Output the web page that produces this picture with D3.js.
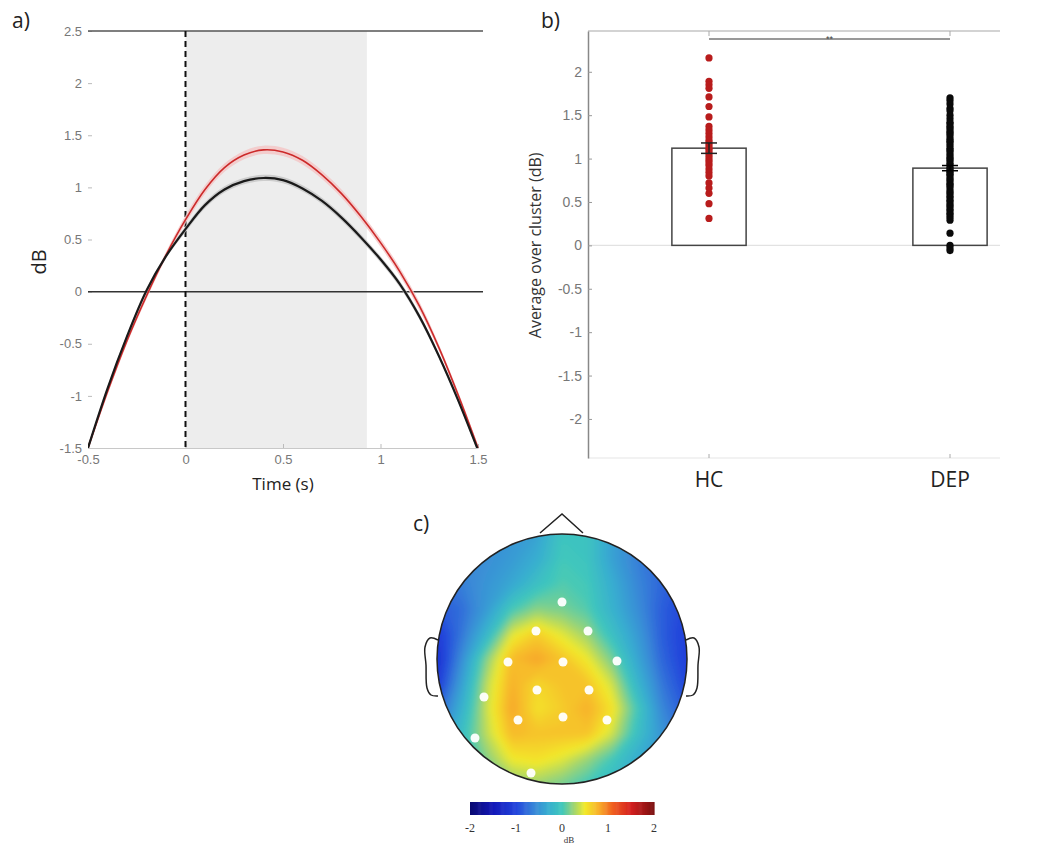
<!DOCTYPE html>
<html>
<head>
<meta charset="utf-8">
<script src="https://cdn.jsdelivr.net/npm/d3@7"></script>
<style>
  body { margin: 0; background: #fff; }
  svg { display: block; }
</style>
</head>
<body>
<div id="chart"></div>
<script>
// ---- panel a : time course (dB) ----
const timePts = [-0.5,-0.4,-0.3,-0.2,-0.1,0,0.1,0.2,0.3,0.4,0.5,0.6,0.7,0.8,0.9,1.0,1.1,1.2,1.3,1.4,1.5];
const hcCurve  = [-1.50,-0.96,-0.47,-0.04,0.35,0.69,0.98,1.19,1.31,1.36,1.34,1.26,1.12,0.94,0.72,0.47,0.19,-0.14,-0.54,-1.00,-1.50];
const depCurve = [-1.50,-0.93,-0.43,0.01,0.34,0.60,0.83,0.98,1.06,1.09,1.07,0.99,0.87,0.71,0.52,0.31,0.07,-0.24,-0.62,-1.05,-1.52];
const hcSem  = [0.03,0.03,0.03,0.03,0.03,0.04,0.04,0.04,0.04,0.04,0.04,0.04,0.04,0.04,0.04,0.04,0.04,0.04,0.03,0.03,0.03];
const depSem = [0.02,0.02,0.02,0.02,0.02,0.03,0.03,0.03,0.03,0.03,0.03,0.03,0.03,0.03,0.03,0.03,0.03,0.03,0.02,0.02,0.02];
const timeTicks = [-0.5, 0, 0.5, 1, 1.5];
const dbTicks = [-1.5, -1, -0.5, 0, 0.5, 1, 1.5, 2, 2.5];
const clusterWindow = [0, 0.93];

// ---- panel b : average over cluster ----
const groups = ["HC", "DEP"];
const groupMeans = [1.12, 0.89];
const groupSem = [0.06, 0.03];
const hcPoints = [2.16,1.89,1.85,1.81,1.71,1.60,1.48,1.37,1.33,1.29,1.25,1.21,1.18,1.15,1.12,1.10,1.07,1.04,1.01,0.98,0.95,0.92,0.88,0.84,0.80,0.72,0.66,0.60,0.48,0.31];
const depPoints = [1.70,1.67,1.63,1.58,1.55,1.50,1.46,1.42,1.40,1.37,1.35,1.32,1.30,1.28,1.25,1.22,1.20,1.18,1.15,1.12,1.10,1.08,1.05,1.02,1.00,0.98,0.95,0.93,0.90,0.88,0.86,0.84,0.82,0.80,0.77,0.75,0.72,0.70,0.68,0.65,0.62,0.60,0.57,0.55,0.52,0.50,0.47,0.45,0.42,0.40,0.37,0.35,0.32,0.29,0.14,0.0,-0.03,-0.06];
const clusterTicks = [-2, -1.5, -1, -0.5, 0, 0.5, 1, 1.5, 2];

// ---- panel c : topography (head coords -1..1, rows top to bottom) ----
const topoGrid = [
  [-0.6,-0.6,-0.55,-0.5,-0.4,-0.05,-0.05,-0.4,-0.65,-0.8,-0.85],
  [-0.65,-0.6,-0.55,-0.45,-0.3,0.0,-0.05,-0.4,-0.65,-0.8,-0.9],
  [-0.75,-0.65,-0.5,-0.35,-0.1,0.05,0.0,-0.3,-0.6,-0.8,-0.95],
  [-0.9,-0.75,-0.45,0.0,0.2,0.15,0.05,-0.25,-0.55,-0.85,-1.0],
  [-1.1,-0.7,-0.2,0.45,0.65,0.45,0.25,-0.1,-0.45,-0.85,-1.05],
  [-1.2,-0.55,0.2,0.75,0.85,0.7,0.5,0.15,-0.35,-0.8,-1.05],
  [-1.1,-0.4,0.35,0.8,0.6,0.7,0.7,0.4,-0.2,-0.7,-1.0],
  [-0.85,-0.25,0.4,0.85,0.55,0.65,0.8,0.55,0.0,-0.6,-0.9],
  [-0.6,-0.1,0.35,0.75,0.7,0.7,0.7,0.4,-0.1,-0.5,-0.8],
  [-0.5,-0.2,0.2,0.5,0.55,0.45,0.25,0.0,-0.3,-0.5,-0.7],
  [-0.5,-0.3,-0.05,0.2,0.25,0.15,0.0,-0.15,-0.35,-0.5,-0.65]
];
const electrodes = [
  [0,-0.456],[-0.208,-0.224],[0.208,-0.224],[-0.432,0.024],[0.008,0.024],[0.44,0.016],
  [-0.624,0.304],[-0.2,0.248],[0.216,0.248],[-0.352,0.488],[0.008,0.464],[0.36,0.488],
  [-0.696,0.632],[-0.248,0.912]
];
const noseShape = [[-0.176,-1.008],[0,-1.16],[0.168,-1.008]];
const earShape = [[-0.992,-0.152],[-1.056,-0.168],[-1.096,-0.096],[-1.088,0.048],[-1.08,0.232],[-1.048,0.288],[-0.992,0.296]];
const colorTicks = [-2, -1, 0, 1, 2];
const colorStops = [-2,-1.5,-1.0,-0.6,-0.3,0.0,0.25,0.5,0.8,1.1,1.5,2.0];
const colorVals = ["#0a0a70","#1418b8","#2244dc","#3a88d8","#38aed0","#40c8bc","#9cd474","#f2ea2a","#f8b02c","#f06020","#d42020","#7a1010"];

const svg = d3.select("#chart").append("svg")
    .attr("width", 1049)
    .attr("height", 848);

const labelFont = "'Open Sans', 'Noto Sans', sans-serif";
const tickFont = "'Liberation Sans', Arial, sans-serif";
const plain = d => String(d);

// =================== panel a ===================
const xA = d3.scaleLinear().domain([-0.5, 1.5]).range([88, 478]);
const yA = d3.scaleLinear().domain([-1.5, 2.5]).range([448, 31]);
const rightA = 483;

const gA = svg.append("g");
gA.append("defs").append("clipPath").attr("id", "clipA")
  .append("rect").attr("x", 88).attr("y", 31).attr("width", rightA - 88).attr("height", 448 - 31);

gA.append("rect")
    .attr("x", xA(clusterWindow[0]))
    .attr("y", yA(2.5))
    .attr("width", xA(clusterWindow[1]) - xA(clusterWindow[0]))
    .attr("height", yA(-1.5) - yA(2.5))
    .attr("fill", "#ededed");

const axA = gA.append("g").attr("transform", "translate(88,0)")
    .call(d3.axisLeft(yA).tickValues(dbTicks).tickSizeInner(-4).tickSizeOuter(0).tickPadding(6).tickFormat(plain));
axA.select(".domain").remove();
const axAb = gA.append("g").attr("transform", "translate(0,448)")
    .call(d3.axisBottom(xA).tickValues(timeTicks).tickSizeInner(-4).tickSizeOuter(0).tickPadding(7).tickFormat(plain));
axAb.select(".domain").attr("stroke", "#c8c8c8");
[axA, axAb].forEach(a => {
  a.selectAll("line").attr("stroke", "#bbb");
  a.selectAll("text").attr("fill", "#777").style("font-family", tickFont).style("font-size", "13px");
});

// top border and zero line
gA.append("line").attr("x1", 88).attr("x2", rightA).attr("y1", yA(2.5)).attr("y2", yA(2.5))
    .attr("stroke", "#555").attr("stroke-width", 1.5);
gA.append("line").attr("x1", 88).attr("x2", rightA).attr("y1", yA(0)).attr("y2", yA(0))
    .attr("stroke", "#333").attr("stroke-width", 1.5);
gA.append("line").attr("x1", xA(0)).attr("x2", xA(0)).attr("y1", yA(2.5)).attr("y2", yA(-1.5))
    .attr("stroke", "#111").attr("stroke-width", 2).attr("stroke-dasharray", "6,4");

const series = [
  { mean: hcCurve, sem: hcSem, line: "#cc2a2a", band: "#f4c4c4", w: 1.6 },
  { mean: depCurve, sem: depSem, line: "#1a1a1a", band: "#c4c4c4", w: 2.2 }
];
const curveG = gA.append("g").attr("clip-path", "url(#clipA)");
series.forEach(s => {
  const pts = timePts.map((t, i) => ({ t, m: s.mean[i], e: s.sem[i] }));
  curveG.append("path").datum(pts)
      .attr("fill", s.band).attr("opacity", 0.8)
      .attr("d", d3.area().curve(d3.curveCatmullRom)
        .x(d => xA(d.t)).y0(d => yA(d.m - d.e)).y1(d => yA(d.m + d.e)));
});
series.forEach(s => {
  const pts = timePts.map((t, i) => ({ t, m: s.mean[i] }));
  curveG.append("path").datum(pts)
      .attr("fill", "none").attr("stroke", s.line).attr("stroke-width", s.w)
      .attr("d", d3.line().curve(d3.curveCatmullRom).x(d => xA(d.t)).y(d => yA(d.m)));
});

gA.append("text").attr("x", 12).attr("y", 28).text("a)")
    .style("font-family", labelFont).style("font-size", "21px").attr("fill", "#222");
gA.append("text").attr("transform", "translate(46,262) rotate(-90)")
    .attr("text-anchor", "middle").text("dB")
    .style("font-family", labelFont).style("font-size", "20px").attr("fill", "#222");
gA.append("text").attr("x", 283).attr("y", 490).attr("text-anchor", "middle").text("Time (s)")
    .style("font-family", labelFont).style("font-size", "17px").attr("fill", "#222");

// =================== panel b ===================
const xB = d3.scaleLinear().domain([1, 2]).range([709, 950]);
const yB = d3.scaleLinear().domain([-2.45, 2.47]).range([458, 31]);
const leftB = 588, rightB = 1000;
const gB = svg.append("g");

gB.append("line").attr("x1", leftB).attr("x2", rightB).attr("y1", 31).attr("y2", 31)
    .attr("stroke", "#c4c4c4").attr("stroke-width", 1.5);
gB.append("line").attr("x1", leftB).attr("x2", rightB).attr("y1", 458).attr("y2", 458)
    .attr("stroke", "#eeeeee").attr("stroke-width", 1.5);
gB.append("line").attr("x1", leftB).attr("x2", rightB).attr("y1", yB(0)).attr("y2", yB(0))
    .attr("stroke", "#e2e2e2").attr("stroke-width", 1.2);

const axB = gB.append("g").attr("transform", `translate(${leftB},0)`)
    .call(d3.axisLeft(yB).tickValues(clusterTicks).tickSizeInner(-4).tickSizeOuter(0).tickPadding(6).tickFormat(plain));
axB.select(".domain").attr("stroke", "#888").attr("stroke-width", 1.5);
axB.selectAll("line").attr("stroke", "#999");
axB.selectAll("text").attr("fill", "#777").style("font-family", tickFont).style("font-size", "14px");

groups.forEach((g, i) => {
  gB.append("line").attr("x1", xB(i + 1)).attr("x2", xB(i + 1)).attr("y1", 31).attr("y2", 36)
      .attr("stroke", "#aaa");
  gB.append("line").attr("x1", xB(i + 1)).attr("x2", xB(i + 1)).attr("y1", 454).attr("y2", 458)
      .attr("stroke", "#aaa");
});

gB.selectAll(".bar").data(groups).enter().append("rect")
    .attr("x", (d, i) => xB(i + 1 - 0.154))
    .attr("width", xB(1.154) - xB(0.846))
    .attr("y", (d, i) => yB(groupMeans[i]))
    .attr("height", (d, i) => yB(0) - yB(groupMeans[i]))
    .attr("fill", "#fff").attr("stroke", "#444").attr("stroke-width", 1.5);

const dotSets = [
  { vals: hcPoints, color: "#b81c1c", pos: 1 },
  { vals: depPoints, color: "#0a0a0a", pos: 2 }
];
dotSets.forEach(s => {
  gB.append("g").selectAll("circle").data(s.vals).enter().append("circle")
      .attr("cx", xB(s.pos)).attr("cy", d => yB(d)).attr("r", 3.6)
      .attr("fill", s.color);
});

groups.forEach((g, i) => {
  const x = xB(i + 1);
  const lo = yB(groupMeans[i] - groupSem[i]), hi = yB(groupMeans[i] + groupSem[i]);
  const eg = gB.append("g").attr("stroke", i === 0 ? "#222" : "#000").attr("stroke-width", 1.5);
  eg.append("line").attr("x1", x).attr("x2", x).attr("y1", lo).attr("y2", hi);
  eg.append("line").attr("x1", x - 8).attr("x2", x + 8).attr("y1", lo).attr("y2", lo);
  eg.append("line").attr("x1", x - 8).attr("x2", x + 8).attr("y1", hi).attr("y2", hi);
});

// significance bar
gB.append("line").attr("x1", xB(1)).attr("x2", xB(2)).attr("y1", 39).attr("y2", 39)
    .attr("stroke", "#999").attr("stroke-width", 2);
gB.append("text").attr("x", (xB(1) + xB(2)) / 2).attr("y", 42).attr("text-anchor", "middle")
    .text("**").style("font-family", tickFont).style("font-size", "9px").attr("fill", "#444");

gB.selectAll(".glabel").data(groups).enter().append("text")
    .attr("x", (d, i) => xB(i + 1)).attr("y", 487).attr("text-anchor", "middle")
    .text(d => d).style("font-family", labelFont).style("font-size", "21px").attr("fill", "#222");
gB.append("text").attr("transform", `translate(541,${yB(0)}) rotate(-90)`)
    .attr("text-anchor", "middle").text("Average over cluster (dB)")
    .style("font-family", labelFont).style("font-size", "16px").attr("fill", "#333");
gB.append("text").attr("x", 541).attr("y", 28).text("b)")
    .style("font-family", labelFont).style("font-size", "21px").attr("fill", "#222");

// =================== panel c ===================
const hx = d3.scaleLinear().domain([-1, 1]).range([437, 687]);
const hy = d3.scaleLinear().domain([-1, 1]).range([534, 784]);
const rHead = hx(1) - hx(0);
const color = d3.scaleLinear().domain(colorStops).range(colorVals).clamp(true);

const gC = svg.append("g");
const defs = svg.append("defs");
defs.append("clipPath").attr("id", "headClip")
  .append("circle").attr("cx", hx(0)).attr("cy", hy(0)).attr("r", rHead);
defs.append("filter").attr("id", "soft").attr("x", "-10%").attr("y", "-10%").attr("width", "120%").attr("height", "120%")
  .append("feGaussianBlur").attr("stdDeviation", 3.5);

const nGrid = topoGrid.length;
const step = 2 / (nGrid - 1);
const flat = topoGrid.flat();
const thresholds = d3.range(-2, 2.001, 0.04);
const contours = d3.contours().size([nGrid, nGrid]).thresholds(thresholds)(flat);
const proj = d3.geoTransform({
  point(x, y) { this.stream.point(hx((x - 0.5) * step - 1), hy((y - 0.5) * step - 1)); }
});
const topoG = gC.append("g").attr("clip-path", "url(#headClip)")
  .append("g").attr("filter", "url(#soft)");
topoG.append("circle").attr("cx", hx(0)).attr("cy", hy(0)).attr("r", rHead + 10)
    .attr("fill", color(d3.min(flat)));
topoG.selectAll("path").data(contours).enter().append("path")
    .attr("d", d3.geoPath(proj))
    .attr("fill", d => color(d.value + 0.02));

gC.append("g").selectAll("circle").data(electrodes).enter().append("circle")
    .attr("cx", d => hx(d[0])).attr("cy", d => hy(d[1])).attr("r", 4.5)
    .attr("fill", "#fff").attr("opacity", 0.95);

gC.append("circle").attr("cx", hx(0)).attr("cy", hy(0)).attr("r", rHead)
    .attr("fill", "none").attr("stroke", "#222").attr("stroke-width", 1.5);
const headLine = d3.line().x(d => hx(d[0])).y(d => hy(d[1]));
gC.append("path").attr("d", headLine(noseShape)).attr("fill", "none").attr("stroke", "#222").attr("stroke-width", 1.5);
const earLine = d3.line().curve(d3.curveCatmullRom).x(d => hx(d[0])).y(d => hy(d[1]));
gC.append("path").attr("d", earLine(earShape)).attr("fill", "none").attr("stroke", "#222").attr("stroke-width", 1.5);
gC.append("path").attr("d", earLine(earShape.map(p => [-p[0], p[1]]))).attr("fill", "none").attr("stroke", "#222").attr("stroke-width", 1.5);

// colour bar
const cb = d3.scaleLinear().domain([-2, 2]).range([470, 654]);
const cbStep = 0.02;
gC.append("g").selectAll("rect").data(d3.range(-2, 2, cbStep)).enter().append("rect")
    .attr("x", d => cb(d)).attr("width", cb(cbStep) - cb(0) + 0.6)
    .attr("y", 802).attr("height", 13)
    .attr("fill", d => color(d + cbStep / 2));
gC.append("g").selectAll("text").data(colorTicks).enter().append("text")
    .attr("x", d => cb(d)).attr("y", 832).attr("text-anchor", "middle")
    .text(plain)
    .style("font-family", "'Liberation Serif', 'DejaVu Serif', serif").style("font-size", "12px").attr("fill", "#333");
gC.append("text").attr("x", cb(0.15)).attr("y", 843).attr("text-anchor", "middle").text("dB")
    .style("font-family", "'Liberation Serif', 'DejaVu Serif', serif").style("font-size", "9px").attr("fill", "#333");

gC.append("text").attr("x", 413).attr("y", 531).text("c)")
    .style("font-family", labelFont).style("font-size", "21px").attr("fill", "#222");
</script>
</body>
</html>
